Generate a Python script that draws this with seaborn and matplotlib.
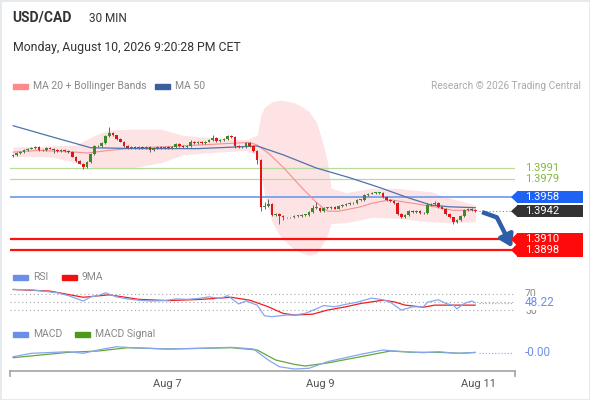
import numpy as np
import pandas as pd
import seaborn as sns
import matplotlib.pyplot as plt
from matplotlib.patches import Rectangle, Polygon
from matplotlib.transforms import blended_transform_factory

# ---- data (30 min candles, USD/CAD) ----
first_open = 1.4005
closes = [1.4006, 1.4008, 1.4009, 1.4011, 1.4013, 1.4014, 1.4015, 1.4011, 1.4011, 1.4014,
          1.4013, 1.4011, 1.4010, 1.4011, 1.4010, 1.4009, 1.4004, 1.3999, 1.3996, 1.3992,
          1.3998, 1.4007, 1.4016, 1.4016, 1.4019, 1.4027, 1.4031, 1.4028, 1.4024, 1.4021,
          1.4016, 1.4014, 1.4015, 1.4014, 1.4015, 1.4014, 1.4015, 1.4011, 1.4014, 1.4015,
          1.4014, 1.4015, 1.4014, 1.4015, 1.4018, 1.4016, 1.4015, 1.4016, 1.4021, 1.4019,
          1.4021, 1.4019, 1.4021, 1.4023, 1.4025, 1.4022, 1.4023, 1.4024, 1.4027, 1.4026,
          1.4016, 1.4015, 1.4015, 1.4019, 1.4016, 1.4010, 1.4000, 1.3947, 1.3948, 1.3950,
          1.3938, 1.3939, 1.3937, 1.3935, 1.3935, 1.3935, 1.3937, 1.3937, 1.3938, 1.3938,
          1.3941, 1.3946, 1.3946, 1.3942, 1.3946, 1.3946, 1.3947, 1.3945, 1.3948, 1.3949,
          1.3950, 1.3951, 1.3951, 1.3955, 1.3955, 1.3960, 1.3962, 1.3963, 1.3963, 1.3963,
          1.3958, 1.3955, 1.3954, 1.3951, 1.3939, 1.3935, 1.3938, 1.3942, 1.3941, 1.3942,
          1.3940, 1.3940, 1.3949, 1.3950, 1.3951, 1.3947, 1.3945, 1.3939, 1.3935, 1.3930,
          1.3932, 1.3937, 1.3943, 1.3945, 1.3943, 1.3942]
# wick lengths above / below the body, in pips
up_wick = [1, 1, 1, 1, 1, 1, 1, 1, 1, 1,  1, 1, 1, 1, 1, 1, 1, 1, 1, 1,
           1, 1, 1, 1, 1, 2, 6, 1, 1, 1,  1, 1, 1, 1, 1, 1, 1, 1, 1, 1,
           1, 1, 1, 1, 1, 1, 1, 1, 2, 1,  1, 1, 1, 1, 3, 1, 1, 1, 1, 1,
           1, 1, 1, 1, 1, 1, 1, 1, 4, 6,  1, 1, 1, 1, 1, 1, 1, 1, 1, 1,
           1, 3, 6, 1, 1, 1, 1, 1, 1, 1,  1, 1, 1, 1, 1, 1, 1, 1, 1, 1,
           1, 1, 1, 1, 1, 1, 1, 1, 1, 1,  1, 1, 2, 1, 3, 1, 1, 1, 1, 1,
           1, 1, 2, 1, 1, 1]
lo_wick = [2, 1, 1, 1, 1, 1, 1, 1, 1, 1,  1, 3, 1, 1, 1, 1, 1, 1, 1, 2,
           1, 1, 1, 1, 1, 1, 1, 1, 1, 1,  1, 1, 1, 1, 1, 1, 1, 2, 1, 1,
           1, 1, 1, 1, 1, 1, 1, 1, 1, 1,  1, 1, 1, 1, 1, 1, 1, 1, 1, 1,
           2, 1, 1, 1, 1, 1, 4, 5, 3, 1,  1, 1, 9, 3, 1, 1, 1, 1, 1, 1,
           1, 1, 1, 1, 1, 1, 1, 1, 1, 1,  1, 1, 1, 1, 1, 1, 1, 1, 1, 1,
           1, 1, 1, 1, 1, 1, 1, 1, 1, 1,  1, 1, 1, 1, 1, 1, 1, 1, 1, 2,
           1, 1, 1, 1, 1, 1]

ma50_idx = [0, 10, 21, 34, 50, 61, 66, 73, 82, 91, 99, 107, 113, 118, 125]
ma50 = [1.4039, 1.4027, 1.4014, 1.4013, 1.4013, 1.4015, 1.4016, 1.4006, 1.3991,
        1.3980, 1.3969, 1.3957, 1.3949, 1.3947, 1.3946]

ma20_idx = [0, 7, 17, 20, 26, 34, 41, 50, 59, 64, 66, 69, 73, 78, 82, 85, 88, 94,
            97, 102, 108, 114, 119, 125]
ma20 = [1.4009, 1.4011, 1.4009, 1.4008, 1.4011, 1.4014, 1.4015, 1.4017, 1.4019,
        1.4020, 1.4017, 1.4008, 1.3992, 1.3969, 1.3952, 1.3942, 1.3942, 1.3947,
        1.3951, 1.3955, 1.3951, 1.3947, 1.3943, 1.3943]

band_idx = [0, 10, 17, 22, 26, 32, 40, 46, 55, 63, 66, 67, 68, 70, 72, 74, 76, 78,
            80, 82, 83, 84, 85, 86, 90, 97, 104, 108, 113, 118, 125]
band_upper = [1.4015, 1.4016, 1.4017, 1.4028, 1.4034, 1.4035, 1.4035, 1.4028, 1.4025,
              1.4023, 1.4028, 1.4051, 1.4060, 1.4066, 1.4068, 1.4067, 1.4065, 1.4061,
              1.4055, 1.4043, 1.4030, 1.4015, 1.3998, 1.3968, 1.3963, 1.3968, 1.3968,
              1.3966, 1.3964, 1.3957, 1.3949]
band_lower = [1.4004, 1.4004, 1.3997, 1.3991, 1.3991, 1.3991, 1.3997, 1.4006, 1.4009,
              1.4011, 1.4006, 1.3983, 1.3962, 1.3930, 1.3915, 1.3906, 1.3899, 1.3895,
              1.3892, 1.3894, 1.3900, 1.3907, 1.3915, 1.3928, 1.3929, 1.3935, 1.3934,
              1.3932, 1.3930, 1.3929, 1.3930]

green_levels = [1.3991, 1.3979]
blue_level = 1.3958
last_price = 1.3942
red_levels = [1.3910, 1.3898]

forecast_idx = [126.8, 130.8, 134.9]
forecast_px = [1.3941, 1.3935, 1.3901]

rsi_idx = [0, 5, 12, 15, 19, 21, 23, 25, 28, 31, 34, 37, 41, 44, 47, 50, 53, 56, 58,
           61, 63, 66, 68, 70, 74, 76, 79, 82, 84, 87, 90, 93, 97, 100, 102, 105, 108,
           111, 112, 115, 117, 119, 120, 122, 124, 125]
rsi = [81, 80, 73, 66, 53, 63, 66, 73, 63, 58, 55, 53, 54, 58, 57, 59, 63, 59, 66,
       46, 53, 43, 17, 15, 19, 19, 23, 34, 42, 39, 45, 50, 60, 56, 50, 31, 39,
       39, 50, 56, 47, 43, 34, 47, 53, 48.22]
rsi_ma_idx = [0, 10, 19, 26, 34, 42, 51, 59, 64, 69, 73, 76, 81, 85, 90, 94, 100, 103,
              106, 111, 114, 119, 125]
rsi_ma = [81, 77, 62, 68, 57, 54, 57, 62, 55, 39, 23, 19, 21, 31, 39, 47, 55, 51,
          43, 38, 43, 43, 43]
rsi_levels = [70, 50, 30]

macd_idx = [0, 5, 15, 19, 23, 28, 32, 42, 51, 59, 65, 69, 72, 76, 80, 85, 94, 100,
            103, 111, 115, 120, 125]
macd = [-0.00044, -0.00010, 0.00006, -0.00010, 0.00023, 0.00056, 0.00046, 0.00033,
        0.00040, 0.00050, 0.00033, -0.00077, -0.00144, -0.00167, -0.00160, -0.00094,
        -0.00020, 0.00023, 0.00013, -0.00004, 0.00006, -0.00010, -0.00002]
signal_idx = [0, 15, 23, 31, 42, 59, 66, 71, 76, 79, 85, 94, 102, 108, 115, 121, 125]
signal = [-0.00054, 0.0, 0.00013, 0.00046, 0.00033, 0.00046, 0.00023, -0.00077,
          -0.00120, -0.00137, -0.00107, -0.00044, 0.00013, 0.0, 0.0, -0.00010, -0.00001]

date_ticks = [41.6, 83, 125.7]
date_labels = ['Aug 7', 'Aug 9', 'Aug 11']

# ---- candles table ----
opens = [first_open] + closes[:-1]
df = pd.DataFrame({'open': opens, 'close': closes})
df['idx'] = np.arange(len(df))
df['high'] = df[['open', 'close']].max(axis=1) + np.array(up_wick) * 0.0001
df['low'] = df[['open', 'close']].min(axis=1) - np.array(lo_wick) * 0.0001

sns.set_style('white')
plt.rcParams['font.family'] = ['Roboto', 'DejaVu Sans']

W, H = 590, 400
fig = plt.figure(figsize=(W / 100, H / 100), dpi=100)


def box(x0, y0, x1, y1):
    return [x0 / W, 1 - y1 / H, (x1 - x0) / W, (y1 - y0) / H]


XLIM = (-0.81, 135.7)


def clean(a):
    a.set_xlim(*XLIM)
    a.set_xticks([])
    a.set_yticks([])
    for s in a.spines.values():
        s.set_visible(False)
    a.patch.set_alpha(0)


# ---- main price panel ----
ax = fig.add_axes(box(10, 95, 515, 262))
clean(ax)
ax.set_ylim(1.38844, 1.40738)

ax.fill_between(band_idx, band_lower, band_upper, color='#fde3e3', lw=0, zorder=1)
for lv in green_levels:
    ax.axhline(lv, color='#b8dc9c', lw=0.9, zorder=2)
ax.axhline(blue_level, color='#76a0ee', lw=1.3, zorder=2)
for lv in red_levels:
    ax.axhline(lv, color='#ff1010', lw=1.6, zorder=2)

sns.lineplot(x=ma20_idx, y=ma20, ax=ax, color='#f49090', lw=0.8, zorder=3)
sns.lineplot(x=ma50_idx, y=ma50, ax=ax, color='#4e72ad', lw=0.9, zorder=3)

up = df['close'] >= df['open']
ccol = np.where(up, '#3c8a2a', '#e41414')
ax.vlines(df['idx'], df['low'], df['high'], color='#666666', lw=0.7, zorder=4)
body = (df['close'] - df['open']).abs().clip(lower=0.00003)
ax.bar(df['idx'], body, bottom=df[['open', 'close']].min(axis=1), width=0.72,
       color=ccol, lw=0, zorder=5)

ax.hlines(last_price, 126, 135.2, color='#888888', lw=0.8, ls=(0, (1, 2)), zorder=3)
ax.plot(forecast_idx[:2], forecast_px[:2], color='#2f5ea8', lw=3.2,
        solid_capstyle='butt', zorder=6)
ax.annotate('', xy=(forecast_idx[2], forecast_px[2]), xytext=(forecast_idx[1], forecast_px[1]),
            arrowprops=dict(arrowstyle='-|>,head_length=0.7,head_width=0.45', color='#2f5ea8',
                            lw=3.2, shrinkA=0, shrinkB=0), annotation_clip=False, zorder=6)

tr = blended_transform_factory(fig.transFigure, ax.transData)


def tag(y, text, color, h):
    ax.add_patch(Rectangle((517 / W, y - h / 2), 66 / W, h, transform=tr, color=color,
                           lw=0, clip_on=False, zorder=7))
    ax.add_patch(Polygon([(511 / W, y), (517.5 / W, y + h / 2), (517.5 / W, y - h / 2)],
                         closed=True, transform=tr, color=color, lw=0, clip_on=False, zorder=7))
    ax.text(525 / W, y, text, transform=tr, color='white', fontsize=8, va='center',
            ha='left', zorder=8, clip_on=False)


for lv in green_levels:
    ax.text(525 / W, lv, f'{lv:.4f}', transform=tr, color='#84b83e', fontsize=8,
            va='center', ha='left')
tag(blue_level, f'{blue_level:.4f}', '#1f63f5', 0.00140)
tag(last_price, f'{last_price:.4f}', '#333333', 0.00135)
for lv in red_levels:
    tag(lv, f'{lv:.4f}', '#ff0a0a', 0.00150)

# ---- RSI panel ----
rax = fig.add_axes(box(10, 285, 515, 318))
clean(rax)
rax.set_ylim(11.8, 91.8)
for lv in rsi_levels:
    rax.axhline(lv, color='#a8a8a8', lw=0.8, ls=(0, (1, 2.5)))
sns.lineplot(x=rsi_ma_idx, y=rsi_ma, ax=rax, color='#f01c1c', lw=0.9)
sns.lineplot(x=rsi_idx, y=rsi, ax=rax, color='#86a6f2', lw=0.9)
rax.hlines(rsi[-1], 126, 135.2, color='#9ab4f2', lw=0.9, ls=(0, (1, 1.5)))
rtr = blended_transform_factory(fig.transFigure, rax.transData)
rax.text(525 / W, 70, '70', transform=rtr, color='#888888', fontsize=7.5, va='center')
rax.text(525 / W, 28, '30', transform=rtr, color='#888888', fontsize=7.5, va='center')
rax.text(525 / W, rsi[-1], f'{rsi[-1]:.2f}', transform=rtr, color='#6f8fe8', fontsize=8.5,
         va='center', bbox=dict(boxstyle='square,pad=0.02', fc='white', ec='none'))

# ---- MACD panel ----
max_ = fig.add_axes(box(10, 342, 515, 372))
clean(max_)
max_.set_ylim(-0.00197, 0.00103)
sns.lineplot(x=signal_idx, y=signal, ax=max_, color='#62a83a', lw=0.9)
sns.lineplot(x=macd_idx, y=macd, ax=max_, color='#86a6f2', lw=0.9)
max_.hlines(macd[-1], 126, 135.2, color='#9ab4f2', lw=0.9, ls=(0, (1, 1.5)))
mtr = blended_transform_factory(fig.transFigure, max_.transData)
max_.text(525 / W, macd[-1], f'{macd[-1]:.2f}', transform=mtr, color='#6f8fe8',
          fontsize=8.5, va='center')

# ---- time axis ----
tax = fig.add_axes(box(10, 371, 515, 376))
tax.set_xlim(*XLIM)
tax.patch.set_alpha(0)
tax.set_yticks([])
for s in ['top', 'left', 'right']:
    tax.spines[s].set_color('#aaaaaa')
    tax.spines[s].set_linewidth(1.3)
tax.spines['bottom'].set_visible(False)
tax.set_xticks(date_ticks)
tax.set_xticklabels(date_labels)
tax.tick_params(axis='x', length=0, pad=2, labelsize=8, labelcolor='#555555')

# ---- header and legends ----
fig.text(12 / W, 1 - 18 / H, 'USD/CAD', fontsize=10, fontweight='bold', color='#333333', va='center')
fig.text(89 / W, 1 - 18 / H, '30 MIN', fontsize=8.5, color='#333333', va='center')
fig.text(13 / W, 1 - 48 / H, 'Monday, August 10, 2026 9:20:28 PM CET', fontsize=8.8,
         color='#333333', va='center')
fig.text(581 / W, 1 - 86 / H, 'Research \u00a9 2026 Trading Central', fontsize=7.3,
         color='#aaaaaa', va='center', ha='right')


def legend_item(x, y, color, label):
    fig.add_artist(Rectangle((x / W, 1 - (y + 2.5) / H), 15 / W, 5 / H, color=color,
                             transform=fig.transFigure))
    fig.text((x + 20) / W, 1 - y / H, label, fontsize=7.5, color='#888888', va='center')


legend_item(13, 86, '#ff8a8a', 'MA 20 + Bollinger Bands')
legend_item(155, 86, '#3b5f9c', 'MA 50')
legend_item(13, 277, '#6b8fe8', 'RSI')
legend_item(62, 277, '#f01010', '9MA')
legend_item(13, 334, '#6b8fe8', 'MACD')
legend_item(75, 334, '#4c9a1a', 'MACD Signal')

fig.add_artist(Rectangle((0, 0), 1, 1, fill=False, edgecolor='#e4e9ee', lw=2,
                         transform=fig.transFigure))

fig.savefig('out.png', dpi=100)
